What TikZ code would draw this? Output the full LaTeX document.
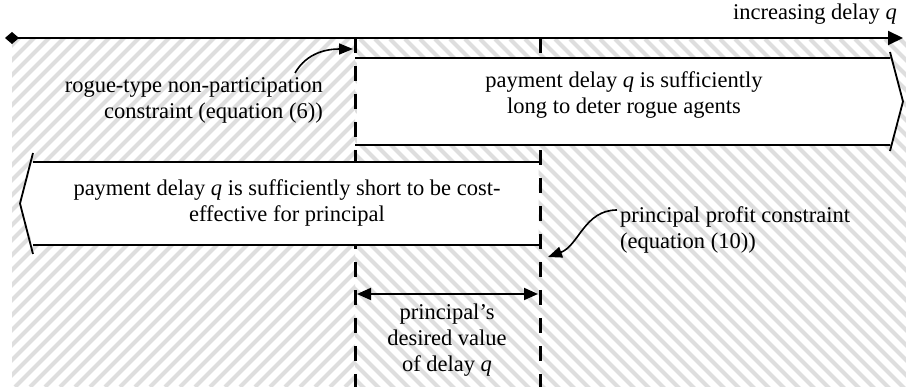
\documentclass[tikz,border=0pt]{standalone}
\usepackage{fontspec}
\setmainfont{Liberation Serif}
\usetikzlibrary{arrows.meta}
\begin{document}
\begin{tikzpicture}[x=1pt,y=-1pt,
  hatch/.style={draw=black!13,line width=4pt},
  rule/.style={line width=2pt},
  limit/.style={line width=3pt,dash pattern=on 15pt off 13pt},
  outline/.style={line width=1.8pt,line join=miter},
  lbl/.style={inner sep=0pt,font=\fontsize{22.5}{26}\selectfont,align=center},
  callout/.style={line width=1.6pt,-{Triangle[length=14pt,width=11pt]}},
  headtail/.style={{Triangle[length=14pt,width=12pt]}-{Triangle[length=14pt,width=12pt]}}
]
\useasboundingbox (0,0) rectangle (906,387);

% shaded zones: short delays on the left, long delays on the right
\begin{scope}
  \clip (12,39) rectangle (355,387);
  \foreach \a in {-345,-330,...,360} \draw[hatch] (\a,387) -- ++(360,-360);
\end{scope}
\begin{scope}
  \clip (355,39) rectangle (906,387);
  \foreach \a in {0,15,...,915} \draw[hatch] (\a,39) -- ++(360,360);
\end{scope}

% limits of the admissible delay range
\coordinate (lowtop) at (355,38);
\coordinate (lowbot) at (355,387);
\coordinate (hightop) at (540,38);
\coordinate (highbot) at (540,387);
\draw[limit] (lowtop) -- (lowbot);
\draw[limit] (hightop) -- (highbot);

% block arrow pointing to longer delays
\fill[white] (357,58) -- (890,58) -- (903,101.5) -- (890,145) -- (357,145) -- cycle;
\draw[outline] (355,58) -- (890,58) (890,52) -- (903,101.5) -- (890,151) (890,145) -- (355,145);

% block arrow pointing to shorter delays
\fill[white] (538.5,162) -- (33,162) -- (20,203.5) -- (33,245) -- (538.5,245) -- cycle;
\draw[outline] (540,162) -- (33,162) (33,153) -- (20,203.5) -- (33,254) (33,245) -- (540,245);

% delay axis
\coordinate (axstart) at (5,38);
\coordinate (axend) at (903,38);
\draw[rule,{Diamond[length=14pt,width=12pt]}-{Triangle[length=15pt,width=14pt]}] (axstart) -- (axend);

% labels
\node[lbl,anchor=base east] (axis) at (897,20) {increasing delay \textit{q}};
\node[lbl,align=right,anchor=east] (rogue) at (323,100) {rogue-type non-participation\\constraint (equation (6))};
\node[lbl] (long) at (624,95) {payment delay \textit{q} is sufficiently\\long to deter rogue agents};
\node[lbl] (short) at (287,203) {payment delay \textit{q} is sufficiently short to be cost-\\effective for principal};
\node[lbl,align=left,anchor=west] (profit) at (620,230) {principal profit constraint\\(equation (10))};
\node[lbl] (desired) at (447,340) {principal's\\desired value\\of delay \textit{q}};

% callouts to the two limits
\coordinate (rogueend) at (295,73);
\coordinate (lowmark) at (353,49);
\draw[callout] (rogueend) to[out=60,in=180] (lowmark);
\coordinate (profitend) at (617,210);
\coordinate (highmark) at (548,257);
\draw[callout] (profitend) to[out=180,in=20] (highmark);

% desired range
\coordinate (rangel) at (357,294);
\coordinate (ranger) at (538,294);
\draw[rule,headtail] (rangel) -- (ranger);
\end{tikzpicture}
\end{document}
